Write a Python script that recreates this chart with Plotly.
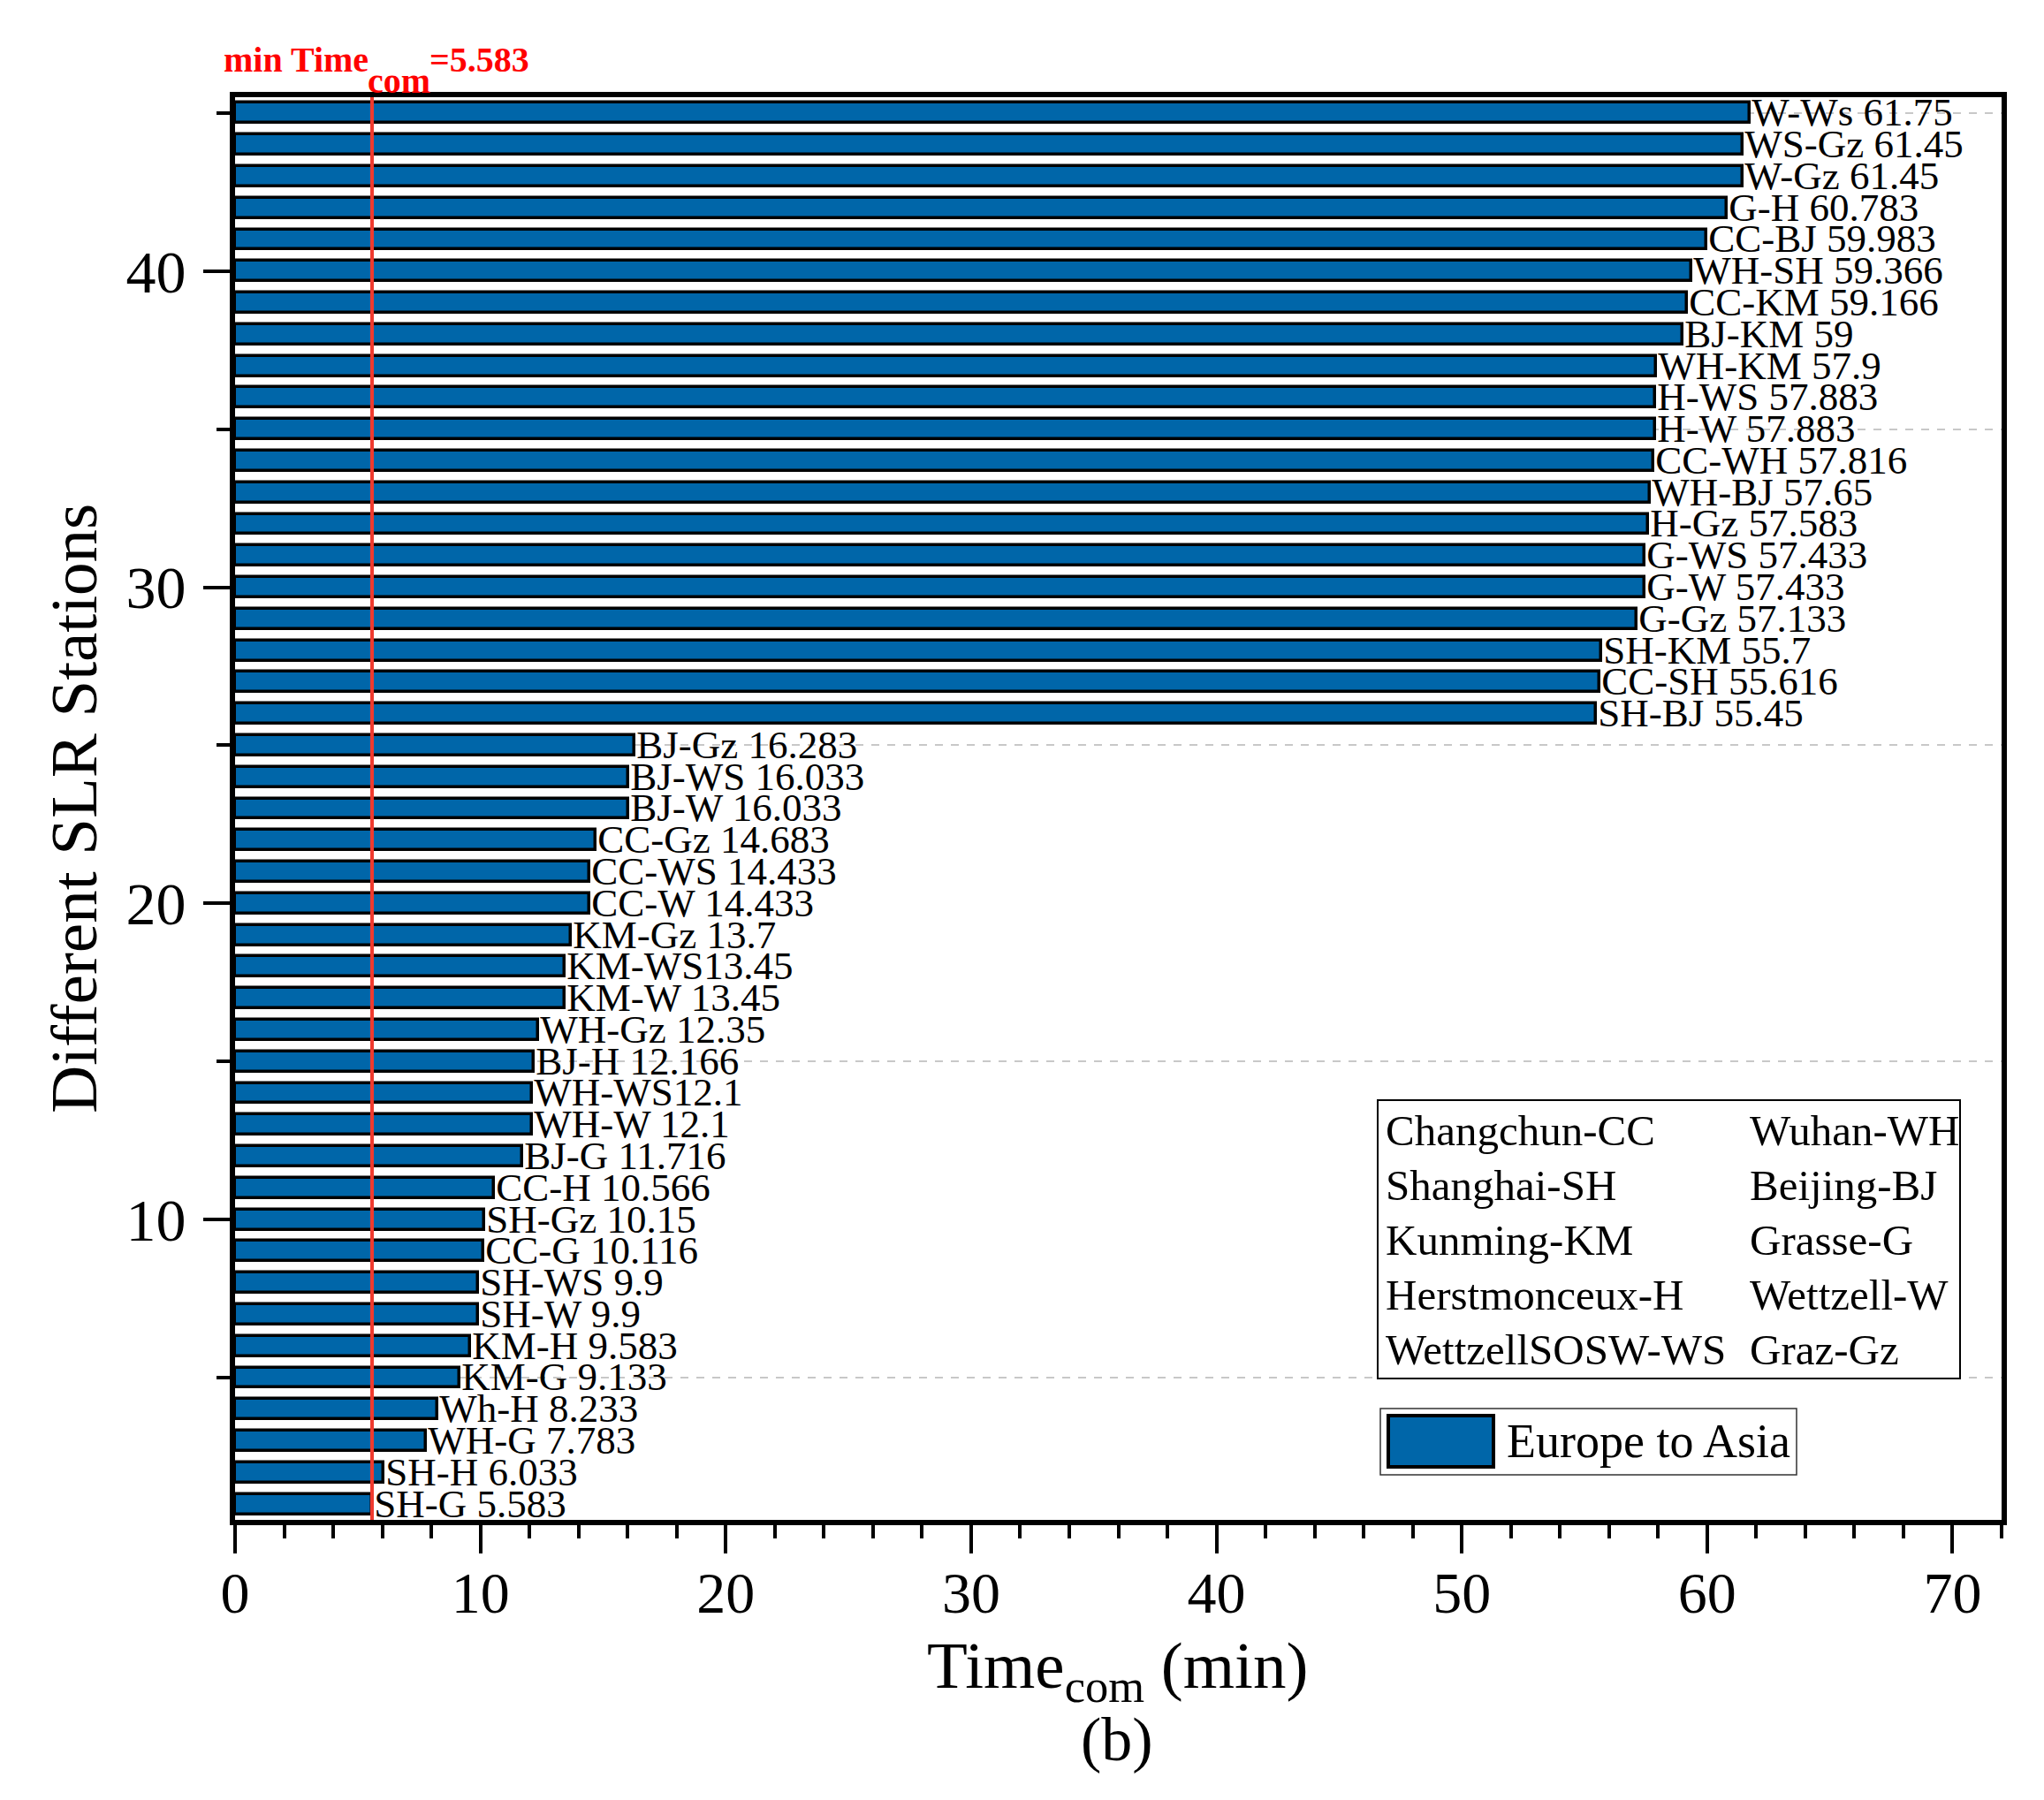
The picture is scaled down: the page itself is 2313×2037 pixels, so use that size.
import plotly.graph_objects as go

# station pairs, bottom (y=1) to top (y=45)
pairs = [
    "SH-G", "SH-H", "WH-G", "Wh-H", "KM-G", "KM-H", "SH-W", "SH-WS", "CC-G", "SH-Gz",
    "CC-H", "BJ-G", "WH-W", "WH-WS", "BJ-H", "WH-Gz", "KM-W", "KM-WS", "KM-Gz", "CC-W",
    "CC-WS", "CC-Gz", "BJ-W", "BJ-WS", "BJ-Gz", "SH-BJ", "CC-SH", "SH-KM", "G-Gz", "G-W",
    "G-WS", "H-Gz", "WH-BJ", "CC-WH", "H-W", "H-WS", "WH-KM", "BJ-KM", "CC-KM", "WH-SH",
    "CC-BJ", "G-H", "W-Gz", "WS-Gz", "W-Ws",
]
time_com = [
    5.583, 6.033, 7.783, 8.233, 9.133, 9.583, 9.9, 9.9, 10.116, 10.15,
    10.566, 11.716, 12.1, 12.1, 12.166, 12.35, 13.45, 13.45, 13.7, 14.433,
    14.433, 14.683, 16.033, 16.033, 16.283, 55.45, 55.616, 55.7, 57.133, 57.433,
    57.433, 57.583, 57.65, 57.816, 57.883, 57.883, 57.9, 59, 59.166, 59.366,
    59.983, 60.783, 61.45, 61.45, 61.75,
]
# labels printed without a space in the original figure
no_space = {"WH-WS", "KM-WS"}

legend_left = ["Changchun-CC", "Shanghai-SH", "Kunming-KM", "Herstmonceux-H", "WettzellSOSW-WS"]
legend_right = ["Wuhan-WH", "Beijing-BJ", "Grasse-G", "Wettzell-W", "Graz-Gz"]

FONT = "Liberation Serif, Times New Roman, serif"
BLUE = "#0066A9"
W, H = 2313, 2037
PAGE = 8  # default body margin of the html page
L, R, T, B = 266, 2265, 110, 1720  # plot area in page pixels


def px(x):
    return (x - L) / (R - L)


def py(y):
    return (B - y) / (B - T)


labels = [f"{p}{'' if p in no_space else ' '}{v:g}" for p, v in zip(pairs, time_com)]
ypos = list(range(1, len(pairs) + 1))

fig = go.Figure()
fig.add_trace(go.Bar(
    x=time_com, y=ypos, orientation="h", name="Europe to Asia",
    width=0.64,
    marker=dict(color=BLUE, line=dict(color="black", width=3.5)),
    text=labels, textposition="outside", textangle=0,
    textfont=dict(family=FONT, size=45, color="black"),
    constraintext="none", cliponaxis=False,
))

min_t = min(time_com)
fig.add_shape(type="line", xref="x", yref="paper", x0=min_t, x1=min_t, y0=0, y1=1,
              line=dict(color="#F03A2E", width=4), layer="above")

ann = []
red = dict(family=FONT, size=40, color="#FF0000")
ann.append(dict(text="<b>min Time</b>", x=px(251), y=py(68), xanchor="left", yanchor="middle", font=red))
ann.append(dict(text="<b>com</b>", x=px(414), y=py(91), xanchor="left", yanchor="middle", font=red))
ann.append(dict(text=f"<b>={min_t:g}</b>", x=px(484), y=py(68), xanchor="left", yanchor="middle", font=red))

ann.append(dict(text="Different SLR Stations", x=px(83), y=py(915), textangle=-90,
                xanchor="center", yanchor="middle", font=dict(family=FONT, size=75, color="black")))
ann.append(dict(text="Time<sub>com</sub> (min)", x=px(1264), y=py(1890),
                xanchor="center", yanchor="middle", font=dict(family=FONT, size=75, color="black")))
ann.append(dict(text="(b)", x=px(1264), y=py(1968),
                xanchor="center", yanchor="middle", font=dict(family=FONT, size=70, color="black")))

row_y = [1280, 1341, 1403, 1465, 1527]
lfont = dict(family=FONT, size=49, color="black")
for name, yy in zip(legend_left, row_y):
    ann.append(dict(text=name, x=px(1566), y=py(yy), xanchor="left", yanchor="middle", font=lfont))
for name, yy in zip(legend_right, row_y):
    ann.append(dict(text=name, x=px(1978), y=py(yy), xanchor="left", yanchor="middle", font=lfont))
ann.append(dict(text="Europe to Asia", x=px(1703), y=py(1631), xanchor="left", yanchor="middle",
                font=dict(family=FONT, size=54, color="black")))

for a in ann:
    a.update(xref="paper", yref="paper", showarrow=False)

shapes = [
    dict(type="rect", xref="paper", yref="paper", x0=px(1559), x1=px(2218), y0=py(1560), y1=py(1245),
         line=dict(color="black", width=2), fillcolor="white", layer="above"),
    dict(type="rect", xref="paper", yref="paper", x0=px(1562), x1=px(2033), y0=py(1669), y1=py(1594),
         line=dict(color="#333333", width=1.5), fillcolor="white", layer="above"),
    dict(type="rect", xref="paper", yref="paper", x0=px(1571), x1=px(1690), y0=py(1660), y1=py(1602),
         line=dict(color="black", width=4), fillcolor=BLUE, layer="above"),
]
for s in shapes:
    fig.add_shape(**s)

fig.update_layout(
    width=W - PAGE, height=H - PAGE,
    margin=dict(l=L - PAGE, r=W - R, t=T - PAGE, b=H - B),
    paper_bgcolor="white", plot_bgcolor="white",
    showlegend=False, bargap=0,
    font=dict(family=FONT, color="black"),
    annotations=ann,
    xaxis=dict(
        range=[0, 72], dtick=10, tick0=0, showgrid=False, zeroline=False,
        showline=True, linecolor="black", linewidth=6, mirror=True,
        ticks="outside", ticklen=32, tickwidth=4, tickcolor="black",
        tickfont=dict(family=FONT, size=66, color="black"), ticklabelstandoff=-12,
        minor=dict(dtick=2, ticks="outside", ticklen=15, tickwidth=4, tickcolor="black", showgrid=False),
    ),
    yaxis=dict(
        range=[0.5, 45.5], dtick=10, tick0=0, showgrid=False, zeroline=False,
        showline=True, linecolor="black", linewidth=6, mirror=True,
        ticks="outside", ticklen=30, tickwidth=4, tickcolor="black",
        tickfont=dict(family=FONT, size=68, color="black"), ticklabelstandoff=6,
        minor=dict(dtick=5, ticks="outside", ticklen=15, tickwidth=4, tickcolor="black",
                   showgrid=True, gridcolor="#C8C8C8", gridwidth=1.5, griddash="dash"),
    ),
)

fig.write_html("out.html")
